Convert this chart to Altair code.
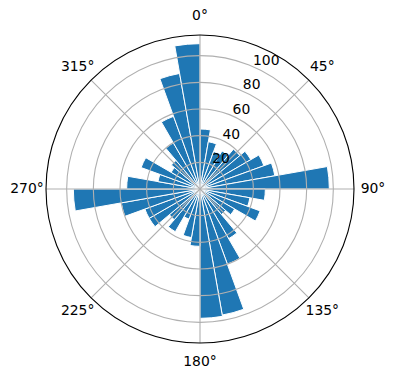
import math
import altair as alt
import pandas as pd

# ---- data ----
bin_start = list(range(0, 360, 10))
counts = [45, 36, 30, 33, 39, 44, 51, 57, 97,
          49, 38, 48, 30, 25, 43, 60, 96, 97,
          43, 37, 24, 37, 30, 44, 44, 60, 95,
          55, 32, 47, 25, 28, 40, 58, 88, 109]
bin_width = 10
ring_values = [20, 40, 60, 80, 100]
angle_ticks = [0, 45, 90, 135, 180, 225, 270, 315]
angle_labels = ["0°", "45°", "90°", "135°", "180°", "225°", "270°", "315°"]
r_max = 115.5

# ---- layout ----
CX, CY = 200, 189
R_PX = 154
FONT = "DejaVu Sans"
FS = 13.9

bars_df = pd.DataFrame({
    "start": bin_start,
    "end": [s + bin_width for s in bin_start],
    "count": counts,
})
rings_df = pd.DataFrame({"r": ring_values, "label": [str(v) for v in ring_values]})
spokes_df = pd.DataFrame({"a": angle_ticks, "r": [r_max] * len(angle_ticks)})
angles_df = pd.DataFrame({"a": angle_ticks, "label": angle_labels})
outer_df = pd.DataFrame({"r": [r_max]})

theta_scale = alt.Scale(domain=[0, 360], range=[0, 2 * math.pi])
r_scale = alt.Scale(type="linear", domain=[0, r_max], range=[0, R_PX], zero=True, nice=False)

center = dict(x=alt.value(CX), y=alt.value(CY))

bars = alt.Chart(bars_df).mark_arc(color="#1f77b4", stroke="white", strokeWidth=1).encode(
    theta=alt.Theta("start:Q", stack=False, scale=theta_scale),
    theta2="end:Q",
    radius=alt.Radius("count:Q", stack=False, scale=r_scale),
    **center,
)

rings = alt.Chart(rings_df).mark_arc(filled=False, stroke="#b0b0b0", strokeWidth=1.1).encode(
    theta=alt.value(0),
    theta2=alt.value(2 * math.pi),
    radius=alt.Radius("r:Q", stack=False, scale=r_scale),
    **center,
)

spokes = alt.Chart(spokes_df).mark_arc(filled=False, stroke="#b0b0b0", strokeWidth=1.1).encode(
    theta=alt.Theta("a:Q", stack=False, scale=theta_scale),
    theta2="a:Q",
    radius=alt.Radius("r:Q", stack=False, scale=r_scale),
    **center,
)

outer = alt.Chart(outer_df).mark_arc(filled=False, stroke="black", strokeWidth=1.1).encode(
    theta=alt.value(0),
    theta2=alt.value(2 * math.pi),
    radius=alt.Radius("r:Q", stack=False, scale=r_scale),
    **center,
)

angle_text = alt.Chart(angles_df).mark_text(
    font=FONT, fontSize=FS, color="black", align="center", baseline="middle"
).encode(
    theta=alt.Theta("a:Q", stack=False, scale=theta_scale),
    radius=alt.value(173),
    text="label:N",
    **center,
)

ring_text = alt.Chart(rings_df).mark_text(
    font=FONT, fontSize=FS, color="black", align="left", baseline="alphabetic", dx=2, dy=-1
).encode(
    theta=alt.value(math.radians(22.5)),
    radius=alt.Radius("r:Q", stack=False, scale=r_scale),
    text="label:N",
    **center,
)

chart = alt.layer(bars, rings, spokes, outer, ring_text, angle_text).properties(
    width=396, height=380, autosize="none", padding=0, background="white"
).configure_view(stroke=None)

chart.save("out.html", embed_options={"renderer": "svg", "actions": False})
